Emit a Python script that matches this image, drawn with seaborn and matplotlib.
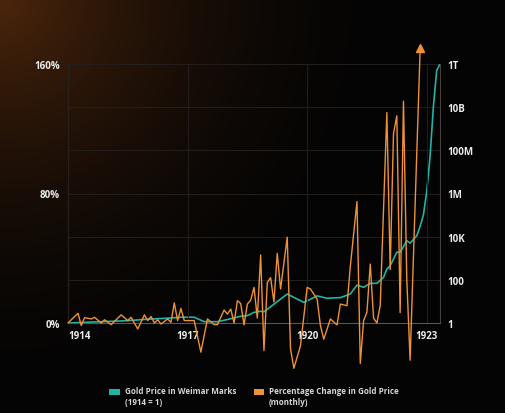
import numpy as np
import matplotlib
matplotlib.use("Agg")
import matplotlib.pyplot as plt
from matplotlib.patches import Patch, Rectangle
from matplotlib.legend_handler import HandlerPatch
from matplotlib.ticker import FixedLocator, FixedFormatter, NullLocator
import seaborn as sns

# Datos (mes 0 = enero 1914)
gold_month = [0, 10, 18, 24, 31, 34, 38, 41, 45, 48, 52, 54, 56, 58, 59, 66, 71, 75,
              78, 82, 85, 87, 89, 91, 93, 95, 96, 97, 99, 100, 102, 103, 105, 106,
              107, 108, 109, 110, 111, 112]
gold_price = [1.0, 1.15, 1.28, 1.5, 1.7, 1.85, 1.85, 1.15, 1.15, 1.45, 2.05, 2.2, 3.1,
              3.5, 3.3, 22, 9, 18, 14, 15, 22, 57, 45, 69, 69, 130, 316, 450, 1900,
              1900, 6500, 5000, 11000, 3e4, 1e5, 1.2e6, 5e7, 1e10, 5e11, 1e12]

pct_month = [0, 3, 4, 5, 7, 8, 10, 11, 13, 16, 18, 19, 21, 23, 24, 25, 26, 27, 28, 30,
             31, 32, 33, 34, 35, 38, 40, 42, 44, 45, 47, 48, 49, 50, 51, 52, 53, 54,
             55, 56, 57, 58, 59, 60, 61, 62, 63, 64, 66, 67, 68, 70, 72, 73, 75, 76,
             77, 79, 81, 82, 84, 85, 87, 88, 89, 90, 91, 92, 93, 94, 96, 97, 98, 99,
             100, 101, 102, 103, 106]
# el ultimo valor se sale de la escala (se dibuja con una flecha)
pct_change = [0, 6, -1.6, 3.3, 2.5, 3.5, 0, 2, -1, 5, 1.5, 3.5, -3.7, 5, 1.5, 4, 0, 2,
              -0.6, 2.5, 0.4, 12.4, 1.5, 9, 1.5, 1.5, -18, 2.5, -1, -1, 8, 5.5, 8.6, 0,
              13.8, 12, -1.2, 11.7, 14, 22, 3, 42, -17, 25, 28, 13, 43, 21, 53, -16,
              -28, -14, 22, 21, 14.8, -1.6, -10, 2.5, -1.2, 11.7, 10.7, 35, 75, -25,
              1.5, 6.6, 36.4, 3, 0, 10.7, 130, 33, 117, 128, 6.4, 137, 27, -23, 168]

year_ticks = [0, 36, 72, 108]
year_labels = ["1914", "1917", "1920", "1923"]
pct_ticks = [0, 80, 160]
pct_labels = ["0%", "80%", "160%"]
gold_ticks = [1, 1e2, 1e4, 1e6, 1e8, 1e10, 1e12]
gold_labels = ["1", "100", "10K", "1M", "100M", "10B", "1T"]

teal = "#22b3a5"
orange = "#ef9137"
grid_c = "#241f1c"
text_c = "#ebebeb"

sns.set_theme(style="dark")
plt.rcParams["font.family"] = ["Open Sans", "DejaVu Sans"]

fig = plt.figure(figsize=(5.06, 4.14), dpi=100)

# fondo oscuro con brillo marron en la esquina superior izquierda
h, w = 414, 506
yy, xx = np.mgrid[0:h, 0:w]
d = np.sqrt(xx ** 2 + yy ** 2) / 420.0
glow = np.clip(1 - d, 0, 1) ** 2.0
bg = np.zeros((h, w, 3))
bg[:] = np.array([4, 4, 4]) / 255
bg += glow[..., None] * (np.array([72, 34, 8]) / 255)
bg_ax = fig.add_axes([0, 0, 1, 1], zorder=-10)
bg_ax.imshow(np.clip(bg, 0, 1), aspect="auto")
bg_ax.axis("off")

ax = fig.add_axes([68 / 506, 1 - 324 / 414, 372 / 506, 259 / 414])
ax2 = ax.twinx()
ax.set_facecolor("none")
ax2.set_facecolor("none")
ax.set_zorder(ax2.get_zorder() + 1)
ax.patch.set_visible(False)

sns.lineplot(x=gold_month, y=gold_price, ax=ax2, color=teal, linewidth=1.2)
sns.lineplot(x=pct_month, y=pct_change, ax=ax, color=orange, linewidth=1.0,
             clip_on=False)
ax.plot(pct_month[-1], pct_change[-1] + 2, marker="^", color=orange, markersize=6,
        clip_on=False, linestyle="none")

ax.set_xlim(0, 112)
ax.set_ylim(0, 160)
ax2.set_yscale("log")
ax2.set_ylim(1, 1e12)

ax.xaxis.set_major_locator(FixedLocator(year_ticks))
ax.xaxis.set_major_formatter(FixedFormatter(year_labels))
ax.yaxis.set_major_locator(FixedLocator(pct_ticks))
ax.yaxis.set_major_formatter(FixedFormatter(pct_labels))
ax2.yaxis.set_major_locator(FixedLocator(gold_ticks))
ax2.yaxis.set_major_formatter(FixedFormatter(gold_labels))
ax2.yaxis.set_minor_locator(NullLocator())

for a in (ax, ax2):
    a.set_xlabel("")
    a.set_ylabel("")
    a.tick_params(length=0, colors=text_c, labelsize=7)
    for lab in a.get_xticklabels() + a.get_yticklabels():
        lab.set_fontweight("bold")
ax.tick_params(axis="y", pad=6)
ax.tick_params(axis="x", pad=5)
ax2.tick_params(axis="y", pad=5)
ax.get_xticklabels()[0].set_ha("left")

ax.grid(False)
ax2.grid(False)
ax2.yaxis.grid(True, color=grid_c, linewidth=0.7)
ax.xaxis.grid(True, color=grid_c, linewidth=0.7)

for a in (ax, ax2):
    for side in ("left", "right", "top", "bottom"):
        a.spines[side].set_visible(False)
ax2.spines["left"].set_visible(True)
ax2.spines["left"].set_color("#45403b")
ax2.spines["right"].set_visible(True)
ax2.spines["right"].set_color("#45403b")
ax2.spines["bottom"].set_visible(True)
ax2.spines["bottom"].set_color("#5a5550")
for side in ("left", "right", "bottom"):
    ax2.spines[side].set_linewidth(0.8)


# cuadrado de la leyenda alineado con la primera linea del texto
def top_square(legend, orig_handle, xdescent, ydescent, width, height, fontsize):
    return Rectangle((-xdescent, -ydescent + 0.55 * fontsize), width, height)


handles = [Patch(facecolor=teal, edgecolor="none"), Patch(facecolor=orange, edgecolor="none")]
labels = ["Gold Price in Weimar Marks\n(1914 = 1)",
          "Percentage Change in Gold Price\n(monthly)"]
leg = fig.legend(handles, labels, loc="center", bbox_to_anchor=(0.502, 0.041), ncol=2,
                 frameon=False, fontsize=5.8, handlelength=1.3, handleheight=0.7,
                 columnspacing=2.2, handletextpad=0.6,
                 handler_map={Patch: HandlerPatch(patch_func=top_square)})
for t in leg.get_texts():
    t.set_color("#d6d6d6")
    t.set_fontweight("bold")

fig.savefig("out.png", dpi=100)
